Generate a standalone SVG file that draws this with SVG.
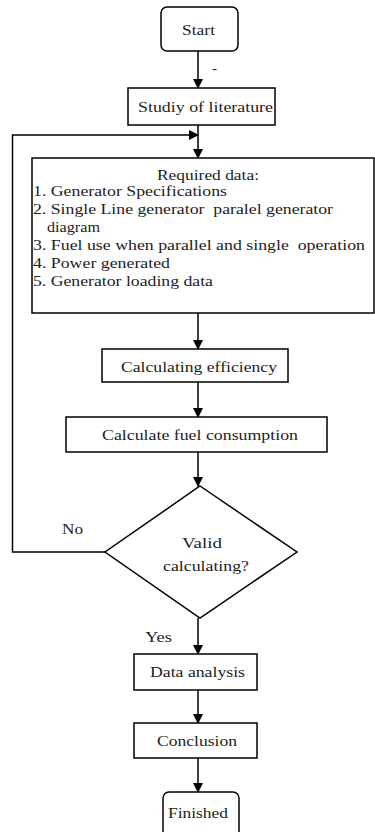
<svg xmlns="http://www.w3.org/2000/svg" width="375" height="832" viewBox="0 0 375 832" xml:space="preserve">
<style>
.b{fill:#fff;stroke:#000;stroke-width:1.5}
.l{fill:none;stroke:#000;stroke-width:1.5}
text{font-family:"Liberation Serif","Times New Roman",serif;font-size:15px;fill:#222;white-space:pre}
.c{text-anchor:middle}
</style>
<defs>
<marker id="a" markerWidth="10" markerHeight="10" refX="9" refY="5" orient="auto" markerUnits="userSpaceOnUse">
<path d="M0,0 L10,5 L0,10 Z" fill="#000"/>
</marker>
</defs>
<rect width="375" height="832" fill="#fff"/>
<g id="connectors">
<line class="l" x1="198" y1="51" x2="198" y2="88" marker-end="url(#a)"/>
<line class="l" x1="198" y1="125" x2="198" y2="158" marker-end="url(#a)"/>
<polyline class="l" points="105,552 12.5,552 12.5,135 198,135" marker-end="url(#a)"/>
<line class="l" x1="198" y1="313" x2="198" y2="349" marker-end="url(#a)"/>
<line class="l" x1="198" y1="382" x2="198" y2="417" marker-end="url(#a)"/>
<line class="l" x1="198" y1="452" x2="198" y2="486" marker-end="url(#a)"/>
<line class="l" x1="198" y1="618" x2="198" y2="654" marker-end="url(#a)"/>
<line class="l" x1="198" y1="690" x2="198" y2="723" marker-end="url(#a)"/>
<line class="l" x1="198" y1="758" x2="198" y2="792" marker-end="url(#a)"/>
<text x="212" y="73" font-size="10">-</text>
<text x="62" y="534" textLength="21" lengthAdjust="spacingAndGlyphs">No</text>
<text x="145" y="642" textLength="27" lengthAdjust="spacingAndGlyphs">Yes</text>
</g>
<g id="start">
<rect class="b" x="161" y="7" width="77" height="44" rx="6"/>
<text x="182" y="35" textLength="33" lengthAdjust="spacingAndGlyphs">Start</text>
</g>
<g id="literature">
<rect class="b" x="128" y="88" width="147" height="37"/>
<text x="138" y="112" textLength="135" lengthAdjust="spacingAndGlyphs">Studiy of literature</text>
</g>
<g id="required">
<rect class="b" x="32" y="158" width="342" height="155"/>
<text x="157" y="180" textLength="102" lengthAdjust="spacingAndGlyphs">Required data:</text>
<text x="33" y="196" textLength="194" lengthAdjust="spacingAndGlyphs">1. Generator Specifications</text>
<text x="33" y="214" textLength="300" lengthAdjust="spacingAndGlyphs">2. Single Line generator  paralel generator</text>
<text x="47" y="232" textLength="53" lengthAdjust="spacingAndGlyphs">diagram</text>
<text x="33" y="250" textLength="332" lengthAdjust="spacingAndGlyphs">3. Fuel use when parallel and single  operation</text>
<text x="33" y="268" textLength="137" lengthAdjust="spacingAndGlyphs">4. Power generated</text>
<text x="33" y="286" textLength="180" lengthAdjust="spacingAndGlyphs">5. Generator loading data</text>
</g>
<g id="efficiency">
<rect class="b" x="102" y="349" width="186" height="33"/>
<text x="121" y="372" textLength="156" lengthAdjust="spacingAndGlyphs">Calculating efficiency</text>
</g>
<g id="fuel">
<rect class="b" x="66" y="417" width="261" height="35"/>
<text x="102" y="440" textLength="196" lengthAdjust="spacingAndGlyphs">Calculate fuel consumption</text>
</g>
<g id="valid">
<polygon class="b" points="200,486 297,552 200,618 105,552"/>
<text x="182" y="548" textLength="40" lengthAdjust="spacingAndGlyphs">Valid</text>
<text x="163" y="571" textLength="86" lengthAdjust="spacingAndGlyphs">calculating?</text>
</g>
<g id="analysis">
<rect class="b" x="134" y="654" width="123" height="36"/>
<text x="150" y="677" textLength="95" lengthAdjust="spacingAndGlyphs">Data analysis</text>
</g>
<g id="conclusion">
<rect class="b" x="134" y="723" width="123" height="35"/>
<text x="157" y="746" textLength="80" lengthAdjust="spacingAndGlyphs">Conclusion</text>
</g>
<g id="finished">
<rect class="b" x="163" y="792" width="76" height="46" rx="6"/>
<text x="168" y="818" textLength="60" lengthAdjust="spacingAndGlyphs">Finished</text>
</g>
</svg>
